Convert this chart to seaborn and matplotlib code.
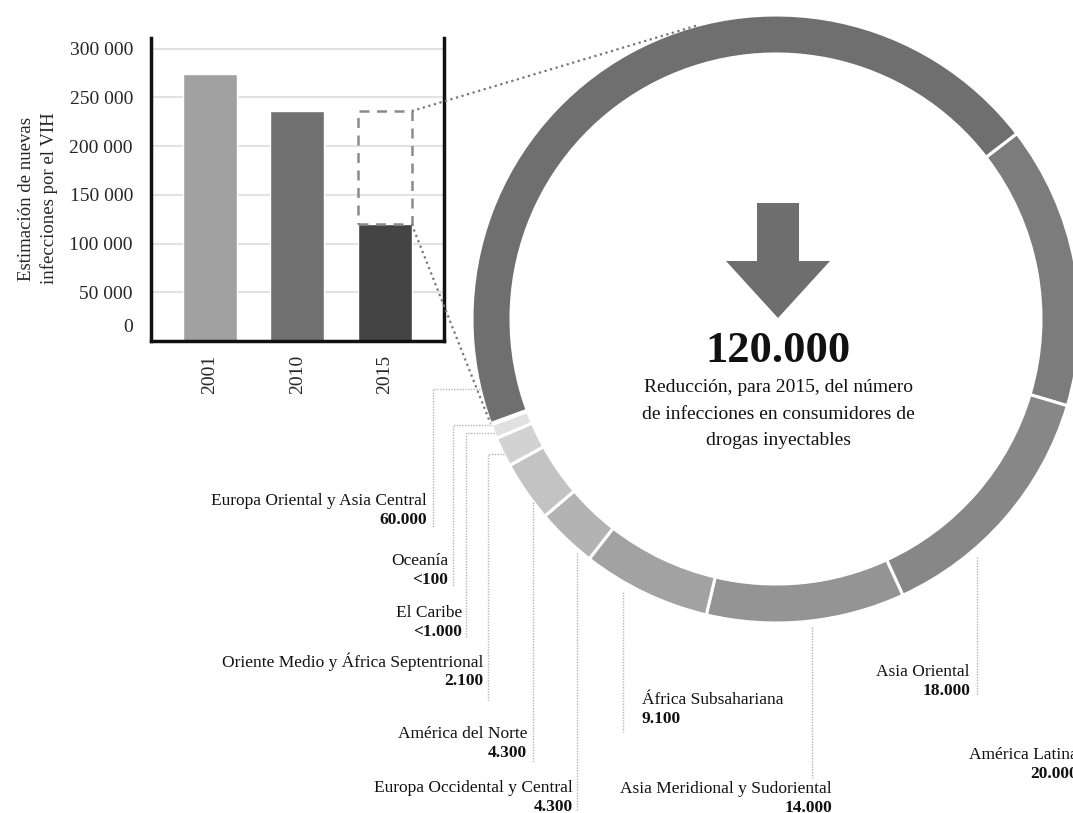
import numpy as np
import matplotlib
matplotlib.use("Agg")
import matplotlib.pyplot as plt
import matplotlib.transforms as mtransforms
from matplotlib.patches import Polygon
import seaborn as sns

# bar chart data
years = ["2001", "2010", "2015"]
infections = [274000, 236000, 120000]
bar_colors = ["#a1a1a1", "#717171", "#444444"]
ytick_values = [0, 50000, 100000, 150000, 200000, 250000, 300000]
ytick_labels = ["0", "50 000", "100 000", "150 000", "200 000", "250 000", "300 000"]

# ring data (clockwise from the upper right)
regions = ["América Latina", "Asia Oriental", "Asia Meridional y Sudoriental",
           "África Subsahariana", "Europa Occidental y Central", "América del Norte",
           "Oriente Medio y África Septentrional", "El Caribe", "Oceanía",
           "Europa Oriental y Asia Central"]
region_values = [20000, 18000, 14000, 9100, 4300, 4300, 2100, 1000, 100, 60000]
region_value_labels = ["20.000", "18.000", "14.000", "9.100", "4.300", "4.300",
                       "2.100", "<1.000", "<100", "60.000"]
ring_colors = ["#7c7c7c", "#878787", "#949494", "#a2a2a2", "#b3b3b3", "#c3c3c3",
               "#d2d2d2", "#e0e0e0", "#ebebeb", "#6f6f6f"]
reduction_value = "120.000"
reduction_text = "Reducción, para 2015, del número\nde infecciones en consumidores de\ndrogas inyectables"

sns.set_style("white")
plt.rcParams["font.family"] = ["Liberation Serif", "DejaVu Serif"]

W, H = 1073, 813
fig = plt.figure(figsize=(W / 100, H / 100), dpi=100)

# --- bar chart ---
ax = fig.add_axes([151 / W, 1 - 341 / H, 293 / W, 303 / H])
sns.barplot(x=years, y=infections, hue=years, palette=bar_colors, legend=False,
            width=0.62, saturation=1, ax=ax, zorder=2)
ax.bar(2, infections[1] - infections[2], bottom=infections[2], width=0.62, fill=False,
       edgecolor="#8a8a8a", linestyle=(0, (4, 3)), linewidth=1.8, zorder=3)
ax.set_xlim(-0.674, 2.68)
ax.set_ylim(0, 311000)
ax.set_yticks(ytick_values)
ax.set_yticklabels(ytick_labels)
ax.yaxis.grid(True, color="#e2e2e2", linewidth=1.5)
ax.set_axisbelow(True)
ax.spines["top"].set_visible(False)
for s in ["left", "right", "bottom"]:
    ax.spines[s].set_linewidth(2.5)
    ax.spines[s].set_color("#111111")
ax.tick_params(axis="y", length=0, pad=13, labelsize=14)
ax.tick_params(axis="x", length=0, pad=10, labelsize=14, labelrotation=90)
ax.set_xlabel("")
ax.set_ylabel("Estimación de nuevas\ninfecciones por el VIH", fontsize=13.5, linespacing=1.35)
ax.yaxis.label.set_va("center")
ax.yaxis.set_label_coords((38 - 151) / 293, 0.47)
zero_lab = ax.get_yticklabels()[0]
zero_lab.set_transform(zero_lab.get_transform() +
                       mtransforms.ScaledTranslation(0, 0.16, fig.dpi_scale_trans))

# --- ring ---
cx, cy, R, ring_w = 776, 319, 304, 39
pax = fig.add_axes([(cx - R) / W, 1 - (cy + R) / H, 2 * R / W, 2 * R / H])
pax.pie(region_values, colors=ring_colors, startangle=37.6, counterclock=False, radius=1,
        wedgeprops=dict(width=ring_w / R, edgecolor="white", linewidth=2.2))
pax.set_xlim(-1, 1)
pax.set_ylim(-1, 1)
pax.axis("off")

# --- overlay in pixel coordinates ---
ov = fig.add_axes([0, 0, 1, 1], zorder=5)
ov.set_xlim(0, W)
ov.set_ylim(H, 0)
ov.axis("off")


def ring_point(deg, r=R):
    a = np.radians(deg)
    return cx + r * np.cos(a), cy - r * np.sin(a)


def to_px(axis, xy):
    p = axis.transData.transform(xy)
    return p[0], H - p[1]


# zoom lines from the 2015 box to the ring
zoom_style = dict(color="#777777", linewidth=1.6, linestyle=(0, (1, 1.6)))
x1, y1 = to_px(ax, (2.31, infections[1]))
x2, y2 = ring_point(105)
ov.plot([x1, x2], [y1, y2], **zoom_style)
x1, y1 = to_px(ax, (2.31, infections[2]))
x2, y2 = ring_point(200.1)
ov.plot([x1, x2], [y1, y2], **zoom_style)

# leader lines and labels: (kind, pos, vx, y_end, text_x, ha, name_y)
layout = {
    "Europa Oriental y Asia Central": ("h", 389, 433, 527, 427, "right", 501),
    "Oceanía": ("h", 425, 453, 587, 448, "right", 561),
    "El Caribe": ("h", 433, 466, 637, 462, "right", 613),
    "Oriente Medio y África Septentrional": ("h", 454, 488, 700, 483, "right", 662),
    "América del Norte": ("v", 0, 533, 762, 527, "right", 734),
    "Europa Occidental y Central": ("v", 4, 577, 810, 573, "right", 788),
    "África Subsahariana": ("v", 10, 623, 732, 642, "left", 700),
    "Asia Meridional y Sudoriental": ("v", 6, 812, 778, 832, "right", 789),
    "Asia Oriental": ("v", 10, 977, 695, 970, "right", 672),
    "América Latina": (None, 0, 0, 0, 1078, "right", 755),
}
lead_style = dict(color="#b5b5b5", linewidth=1.0, linestyle=(0, (1, 1)))
for name, val in zip(regions, region_value_labels):
    kind, pos, vx, y_end, tx, ha, ny = layout[name]
    if kind == "h":
        xr = cx - np.sqrt(R ** 2 - (pos - cy) ** 2)
        ov.plot([xr, vx, vx], [pos, pos, y_end], **lead_style)
    elif kind == "v":
        yr = cy + np.sqrt(R ** 2 - (vx - cx) ** 2) + pos
        ov.plot([vx, vx], [yr, y_end], **lead_style)
    ov.text(tx, ny, name, ha=ha, va="center", fontsize=12.5, color="#111111")
    ov.text(tx, ny + 18.5, val, ha=ha, va="center", fontsize=12.5, fontweight="bold",
            color="#111111")

# centre arrow and text
arrow = Polygon([(757, 203), (799, 203), (799, 261), (830, 261), (778, 318),
                 (726, 261), (757, 261)], closed=True, facecolor="#6e6e6e", edgecolor="none")
ov.add_patch(arrow)
ov.text(778, 351, reduction_value, ha="center", va="center", fontsize=32,
        fontweight="bold", color="#111111")
ov.text(778, 414, reduction_text, ha="center", va="center", fontsize=14,
        linespacing=1.72, color="#111111")

fig.savefig("out.png", dpi=100)
